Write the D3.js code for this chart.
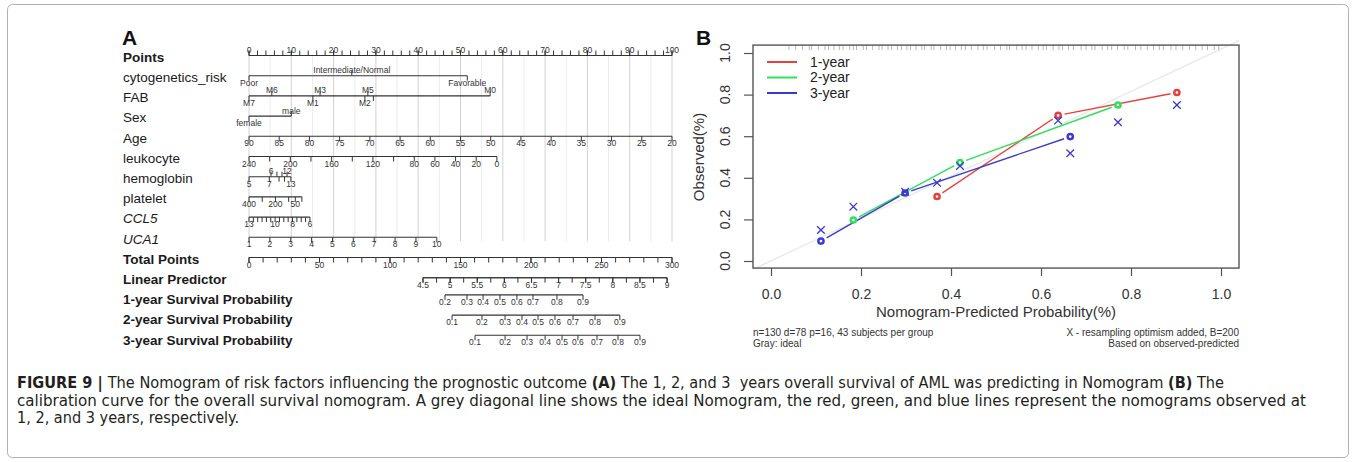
<!DOCTYPE html>
<html>
<head>
<meta charset="utf-8">
<script src="https://cdn.jsdelivr.net/npm/d3@7"></script>
<style>
  body { margin: 0; background: #fff; }
  svg { display: block; font-family: "Liberation Sans", Arial, sans-serif; }
</style>
</head>
<body>
<svg id="chart" width="1356" height="462"></svg>
<script>
// ---------- panel A : nomogram ----------
const rowNames = ["Points", "cytogenetics_risk", "FAB", "Sex", "Age", "leukocyte", "hemoglobin",
  "platelet", "CCL5", "UCA1", "Total Points", "Linear Predictor",
  "1-year Survival Probability", "2-year Survival Probability", "3-year Survival Probability"];
const boldRows = ["Points", "Total Points", "Linear Predictor",
  "1-year Survival Probability", "2-year Survival Probability", "3-year Survival Probability"];
const italicRows = ["CCL5", "UCA1"];

const pointLabels = [0, 10, 20, 30, 40, 50, 60, 70, 80, 90, 100];

const cytoLabels = ["Poor", "Intermediate/Normal", "Favorable"];
const cytoPoints = [0, 24.3, 51.6];

const fabLabels = ["M7", "M6", "M1", "M3", "M2", "M5", "", "M0"];   // M4 tick carries no label
const fabPoints = [0, 5.4, 15.1, 16.8, 27.4, 28.1, 29.4, 57.0];

const sexLabels = ["female", "male"];
const sexPoints = [0, 10];

const ageTicks = [90, 85, 80, 75, 70, 65, 60, 55, 50, 45, 40, 35, 30, 25, 20];
const ageDomain = [90, 20], agePts = [0, 100];

const leukTicks = [240, 220, 200, 180, 160, 140, 120, 100, 80, 60, 40, 20, 0];
const leukLabels = ["240", "", "200", "", "160", "", "120", "", "80", "60", "40", "20", "0"];
const leukDomain = [240, 0], leukPts = [0, 58.6];

const hemoLabels = ["5", "6", "7", "", "", "", "", "12", "13"];
const hemoPoints = [0, 5.2, 4.8, 6.6, 7.1, 7.8, 8.4, 9.0, 9.9];

const pltTicks = [400, 300, 200, 100, 50, 0];
const pltLabels = ["400", "", "200", "", "50", ""];
const pltDomain = [400, 0], pltPts = [0, 12.5];

const ccl5Ticks = [13, 12.5, 12, 11.5, 11, 10.5, 10, 9.5, 9, 8.5, 8, 7.5, 7, 6.5, 6];
const ccl5Labels = ["13", "", "", "", "", "", "10", "", "", "", "8", "", "", "", "6"];
const ccl5Domain = [13, 6], ccl5Pts = [0, 14.4];

const uca1Ticks = [1, 2, 3, 4, 5, 6, 7, 8, 9, 10];
const uca1Domain = [1, 10], uca1Pts = [0, 44.4];

const totalLabels = [0, 50, 100, 150, 200, 250, 300];

const lpLabels = [4.5, 5, 5.5, 6, 6.5, 7, 7.5, 8, 8.5, 9];
const lpDomain = [4.5, 9], lpTotal = [123.4, 296.5];

const survLabels1 = ["0.2", "0.3", "0.4", "0.5", "0.6", "0.7", "0.8", "0.9"];
const survTotal1 = [139, 154.6, 166, 178, 190, 201.4, 218.4, 236.9];
const survLabels2 = ["0.1", "0.2", "0.3", "0.4", "0.5", "0.6", "0.7", "0.8", "0.9"];
const survTotal2 = [144, 165.2, 181.6, 193.6, 205, 217, 229.8, 245.4, 263];
const survLabels3 = ["0.1", "0.2", "0.3", "0.4", "0.5", "0.6", "0.7", "0.8", "0.9"];
const survTotal3 = [160.3, 181.6, 197.2, 210, 222, 233.3, 246.8, 261.7, 277.3];

// ---------- panel B : calibration ----------
const legendNames = ["1-year", "2-year", "3-year"];
const pred1 = [0.369, 0.638, 0.902], obs1 = [0.31, 0.70, 0.81], corr1 = [0.376, 0.675, 0.75];
const pred2 = [0.183, 0.42, 0.771], obs2 = [0.197, 0.473, 0.75], corr2 = [0.261, 0.457, 0.667];
const pred3 = [0.111, 0.298, 0.665], obs3 = [0.096, 0.327, 0.598], corr3 = [0.149, 0.333, 0.518];
const calTicks = [0, 0.2, 0.4, 0.6, 0.8, 1.0];
const rugPred = [0.04, 0.055, 0.07, 0.085, 0.09, 0.105, 0.12, 0.128, 0.14, 0.152, 0.16, 0.175, 0.183,
  0.19, 0.205, 0.212, 0.226, 0.24, 0.247, 0.26, 0.268, 0.281, 0.29, 0.302, 0.31, 0.322, 0.335, 0.341,
  0.356, 0.362, 0.377, 0.39, 0.398, 0.41, 0.423, 0.432, 0.445, 0.46, 0.472, 0.48, 0.497, 0.51, 0.524,
  0.53, 0.546, 0.558, 0.567, 0.58, 0.594, 0.605, 0.612, 0.627, 0.64, 0.648, 0.661, 0.672, 0.689, 0.7,
  0.713, 0.72, 0.736, 0.748, 0.757, 0.77, 0.785, 0.793, 0.81, 0.822, 0.836, 0.85, 0.863, 0.872, 0.889,
  0.9, 0.915, 0.93, 0.944, 0.958, 0.97, 0.985, 0.995];

const svg = d3.select("#chart");

// outer frame
svg.append("rect").attr("x", 7.5).attr("y", 4.5).attr("width", 1341).attr("height", 453)
  .attr("rx", 5).attr("fill", "none").attr("stroke", "#b0b0b0");

// ===== panel A =====
const gA = svg.append("g");
const xP = d3.scaleLinear().domain([0, 100]).range([249, 672]);   // points
const xT = d3.scaleLinear().domain([0, 300]).range([249, 672]);   // total points
const rowY = i => 57 + 20.2 * i;
const lineY = i => rowY(i) - (i >= 12 ? 4.5 : 1.5);

gA.append("text").attr("x", 122).attr("y", 45).text("A")
  .style("font-size", "21px").style("font-weight", "bold").attr("fill", "#111");

// vertical reference lines
xP.ticks(20).forEach(p => {
  gA.append("line").attr("x1", xP(p)).attr("x2", xP(p))
    .attr("y1", lineY(0)).attr("y2", lineY(9) + 4)
    .attr("stroke", p % 10 === 0 ? "#d2d2d2" : "#ececec").attr("stroke-width", 1);
});

rowNames.forEach((n, i) => {
  gA.append("text").attr("x", 123).attr("y", rowY(i)).attr("dy", "0.35em").text(n)
    .style("font-size", "13.5px")
    .style("font-weight", boldRows.includes(n) ? "bold" : "normal")
    .style("font-style", italicRows.includes(n) ? "italic" : "normal")
    .attr("fill", "#1a1a1a");
});

// side: "below", "above" or "alt" (alternating below / above)
function drawRow(i, xs, labels, side) {
  const y = lineY(i);
  const g = gA.append("g");
  g.append("line").attr("x1", d3.min(xs)).attr("x2", d3.max(xs)).attr("y1", y).attr("y2", y)
    .attr("stroke", "#333").attr("stroke-width", 1.1);
  xs.forEach((x, k) => {
    const up = side === "above" || (side === "alt" && k % 2 === 1);
    g.append("line").attr("x1", x).attr("x2", x).attr("y1", y).attr("y2", up ? y - 5 : y + 5)
      .attr("stroke", "#333").attr("stroke-width", 1);
    if (labels[k] !== "" && labels[k] !== undefined) {
      g.append("text").attr("x", x).attr("y", up ? y - 2.5 : y + 10)
        .attr("text-anchor", "middle").text(labels[k])
        .style("font-size", "8.5px").attr("fill", "#333");
    }
  });
}

// Points
drawRow(0, xP.ticks(50).map(xP), [], "above");
drawRow(0, pointLabels.map(xP), pointLabels, "above");
// categorical rows
drawRow(1, cytoPoints.map(xP), cytoLabels, "alt");
drawRow(2, fabPoints.map(xP), fabLabels, "alt");
drawRow(3, sexPoints.map(xP), sexLabels, "alt");
// continuous rows
const contRow = (i, ticks, labels, domain, pts) => {
  const v2p = d3.scaleLinear().domain(domain).range(pts);
  drawRow(i, ticks.map(v => xP(v2p(v))), labels, "below");
};
contRow(4, ageTicks, ageTicks.map(String), ageDomain, agePts);
contRow(5, leukTicks, leukLabels, leukDomain, leukPts);
drawRow(6, hemoPoints.map(xP), hemoLabels, "alt");
contRow(7, pltTicks, pltLabels, pltDomain, pltPts);
contRow(8, ccl5Ticks, ccl5Labels, ccl5Domain, ccl5Pts);
contRow(9, uca1Ticks, uca1Ticks.map(String), uca1Domain, uca1Pts);
// Total points
drawRow(10, xT.ticks(30).map(xT), [], "below");
drawRow(10, totalLabels.map(xT), totalLabels, "below");
// Linear predictor
const lp2t = d3.scaleLinear().domain(lpDomain).range(lpTotal);
drawRow(11, d3.range(lpDomain[0], lpDomain[1] + 0.01, 0.25).map(v => xT(lp2t(v))), [], "below");
drawRow(11, lpLabels.map(v => xT(lp2t(v))), lpLabels, "below");
// survival probabilities
drawRow(12, survTotal1.map(xT), survLabels1, "below");
drawRow(13, survTotal2.map(xT), survLabels2, "below");
drawRow(14, survTotal3.map(xT), survLabels3, "below");

// ===== panel B =====
const gB = svg.append("g");
const px = d3.scaleLinear().domain([0, 1]).range([771, 1221]);
const py = d3.scaleLinear().domain([0, 1]).range([261, 53]);
const box = { x0: px(-0.04), x1: px(1.04), y0: py(1.038), y1: py(-0.034) };

gB.append("text").attr("x", 696).attr("y", 45).text("B")
  .style("font-size", "21px").style("font-weight", "bold").attr("fill", "#111");

// ideal line
gB.append("line").attr("x1", px(-0.035)).attr("y1", py(-0.035)).attr("x2", px(1.04)).attr("y2", py(1.06))
  .attr("stroke", "#ebebeb").attr("stroke-width", 1.5);

// rug of predicted probabilities
gB.selectAll("line.rug").data(rugPred).enter().append("line").attr("class", "rug")
  .attr("x1", d => px(d)).attr("x2", d => px(d))
  .attr("y1", box.y0).attr("y2", box.y0 + 5)
  .attr("stroke", "#999").attr("stroke-width", 0.7);

// frame
gB.append("rect").attr("x", box.x0).attr("y", box.y0)
  .attr("width", box.x1 - box.x0).attr("height", box.y1 - box.y0)
  .attr("fill", "none").attr("stroke", "#555").attr("stroke-width", 1.4);

// x axis
const xAxis = d3.axisBottom(px).tickValues(calTicks).tickFormat(d3.format(".1f"))
  .tickSize(8).tickPadding(13);
const gx = gB.append("g").attr("transform", `translate(0,${box.y1})`).call(xAxis);
gx.select(".domain").remove();
gx.selectAll("line").attr("stroke", "#555").attr("stroke-width", 1.2);
gx.selectAll("text").style("font-size", "14px").style("font-family", "Liberation Sans, Arial, sans-serif")
  .attr("fill", "#333");

// y axis (ticks from the axis, rotated labels drawn by hand)
const yAxis = d3.axisLeft(py).tickValues(calTicks).tickFormat("").tickSize(9);
const gy = gB.append("g").attr("transform", `translate(${box.x0},0)`).call(yAxis);
gy.select(".domain").remove();
gy.selectAll("line").attr("stroke", "#555").attr("stroke-width", 1.2);
calTicks.forEach(t => {
  gB.append("text").attr("transform", `translate(730,${py(t)}) rotate(-90)`)
    .attr("text-anchor", "middle").text(d3.format(".1f")(t))
    .style("font-size", "14px").attr("fill", "#333");
});

gB.append("text").attr("x", (box.x0 + box.x1) / 2).attr("y", 317).attr("text-anchor", "middle")
  .text("Nomogram-Predicted Probability(%)").style("font-size", "15px").attr("fill", "#333");
gB.append("text").attr("transform", `translate(704,157) rotate(-90)`).attr("text-anchor", "middle")
  .text("Observed(%)").style("font-size", "15px").attr("fill", "#333");

// series
const colors = ["#e8403f", "#2fe05a", "#3a3acf"];
const series = [
  { pred: pred1, obs: obs1, corr: corr1 },
  { pred: pred2, obs: obs2, corr: corr2 },
  { pred: pred3, obs: obs3, corr: corr3 }
];
const gap = 6.5;
series.forEach((s, si) => {
  const pts = s.pred.map((p, k) => [px(p), py(s.obs[k])]);
  for (let k = 0; k < pts.length - 1; k++) {
    const [xa, ya] = pts[k], [xb, yb] = pts[k + 1];
    const len = Math.hypot(xb - xa, yb - ya);
    const ux = (xb - xa) / len, uy = (yb - ya) / len;
    gB.append("line")
      .attr("x1", xa + ux * gap).attr("y1", ya + uy * gap)
      .attr("x2", xb - ux * gap).attr("y2", yb - uy * gap)
      .attr("stroke", colors[si]).attr("stroke-width", 1.4);
  }
});
series.forEach((s, si) => {
  gB.selectAll(null).data(s.pred).enter().append("circle")
    .attr("cx", d => px(d)).attr("cy", (d, k) => py(s.obs[k])).attr("r", 2.6)
    .attr("fill", "#fff").attr("stroke", colors[si]).attr("stroke-width", 2.5);
});
series.forEach(s => {
  gB.selectAll(null).data(s.pred).enter().append("path")
    .attr("transform", (d, k) => `translate(${px(d)},${py(s.corr[k])})`)
    .attr("d", "M-3.8,-3.8L3.8,3.8M-3.8,3.8L3.8,-3.8")
    .attr("stroke", colors[2]).attr("stroke-width", 1.3).attr("fill", "none");
});

// legend
legendNames.forEach((n, i) => {
  const y = 62 + i * 15.5;
  gB.append("line").attr("x1", 767).attr("x2", 797).attr("y1", y).attr("y2", y)
    .attr("stroke", colors[i]).attr("stroke-width", 2);
  gB.append("text").attr("x", 810).attr("y", y).attr("dy", "0.35em").text(n)
    .style("font-size", "14px").attr("fill", "#222");
});

// footnotes
const noteStyle = t => t.style("font-size", "10px").attr("fill", "#333");
noteStyle(gB.append("text").attr("x", box.x0).attr("y", 336).text("n=130 d=78 p=16, 43 subjects per group"));
noteStyle(gB.append("text").attr("x", box.x0).attr("y", 347).text("Gray: ideal"));
noteStyle(gB.append("text").attr("x", box.x1).attr("y", 336).attr("text-anchor", "end")
  .text("X - resampling optimism added, B=200"));
noteStyle(gB.append("text").attr("x", box.x1).attr("y", 347).attr("text-anchor", "end")
  .text("Based on observed-predicted"));

// ===== caption =====
const captionLines = [
  [["FIGURE 9 | ", true], ["The Nomogram of risk factors influencing the prognostic outcome ", false], ["(A)", true],
   [" The 1, 2, and 3  years overall survival of AML was predicting in Nomogram ", false], ["(B)", true], [" The", false]],
  [["calibration curve for the overall survival nomogram. A grey diagonal line shows the ideal Nomogram, the red, green, and blue lines represent the nomograms observed at", false]],
  [["1, 2, and 3 years, respectively.", false]]
];
const captionWidths = [1207, 1289, 222];
captionLines.forEach((parts, i) => {
  const t = svg.append("text").attr("x", 17).attr("y", 388 + i * 17.5)
    .attr("textLength", captionWidths[i]).attr("lengthAdjust", "spacingAndGlyphs")
    .style("font-family", "'Liberation Sans Narrow', 'DejaVu Sans Condensed', 'Liberation Sans', sans-serif")
    .style("font-size", "16px").attr("fill", "#231f20")
    .attr("xml:space", "preserve");
  parts.forEach(([txt, b]) => {
    t.append("tspan").text(txt).style("font-weight", b ? "bold" : "normal");
  });
});
</script>
</body>
</html>
